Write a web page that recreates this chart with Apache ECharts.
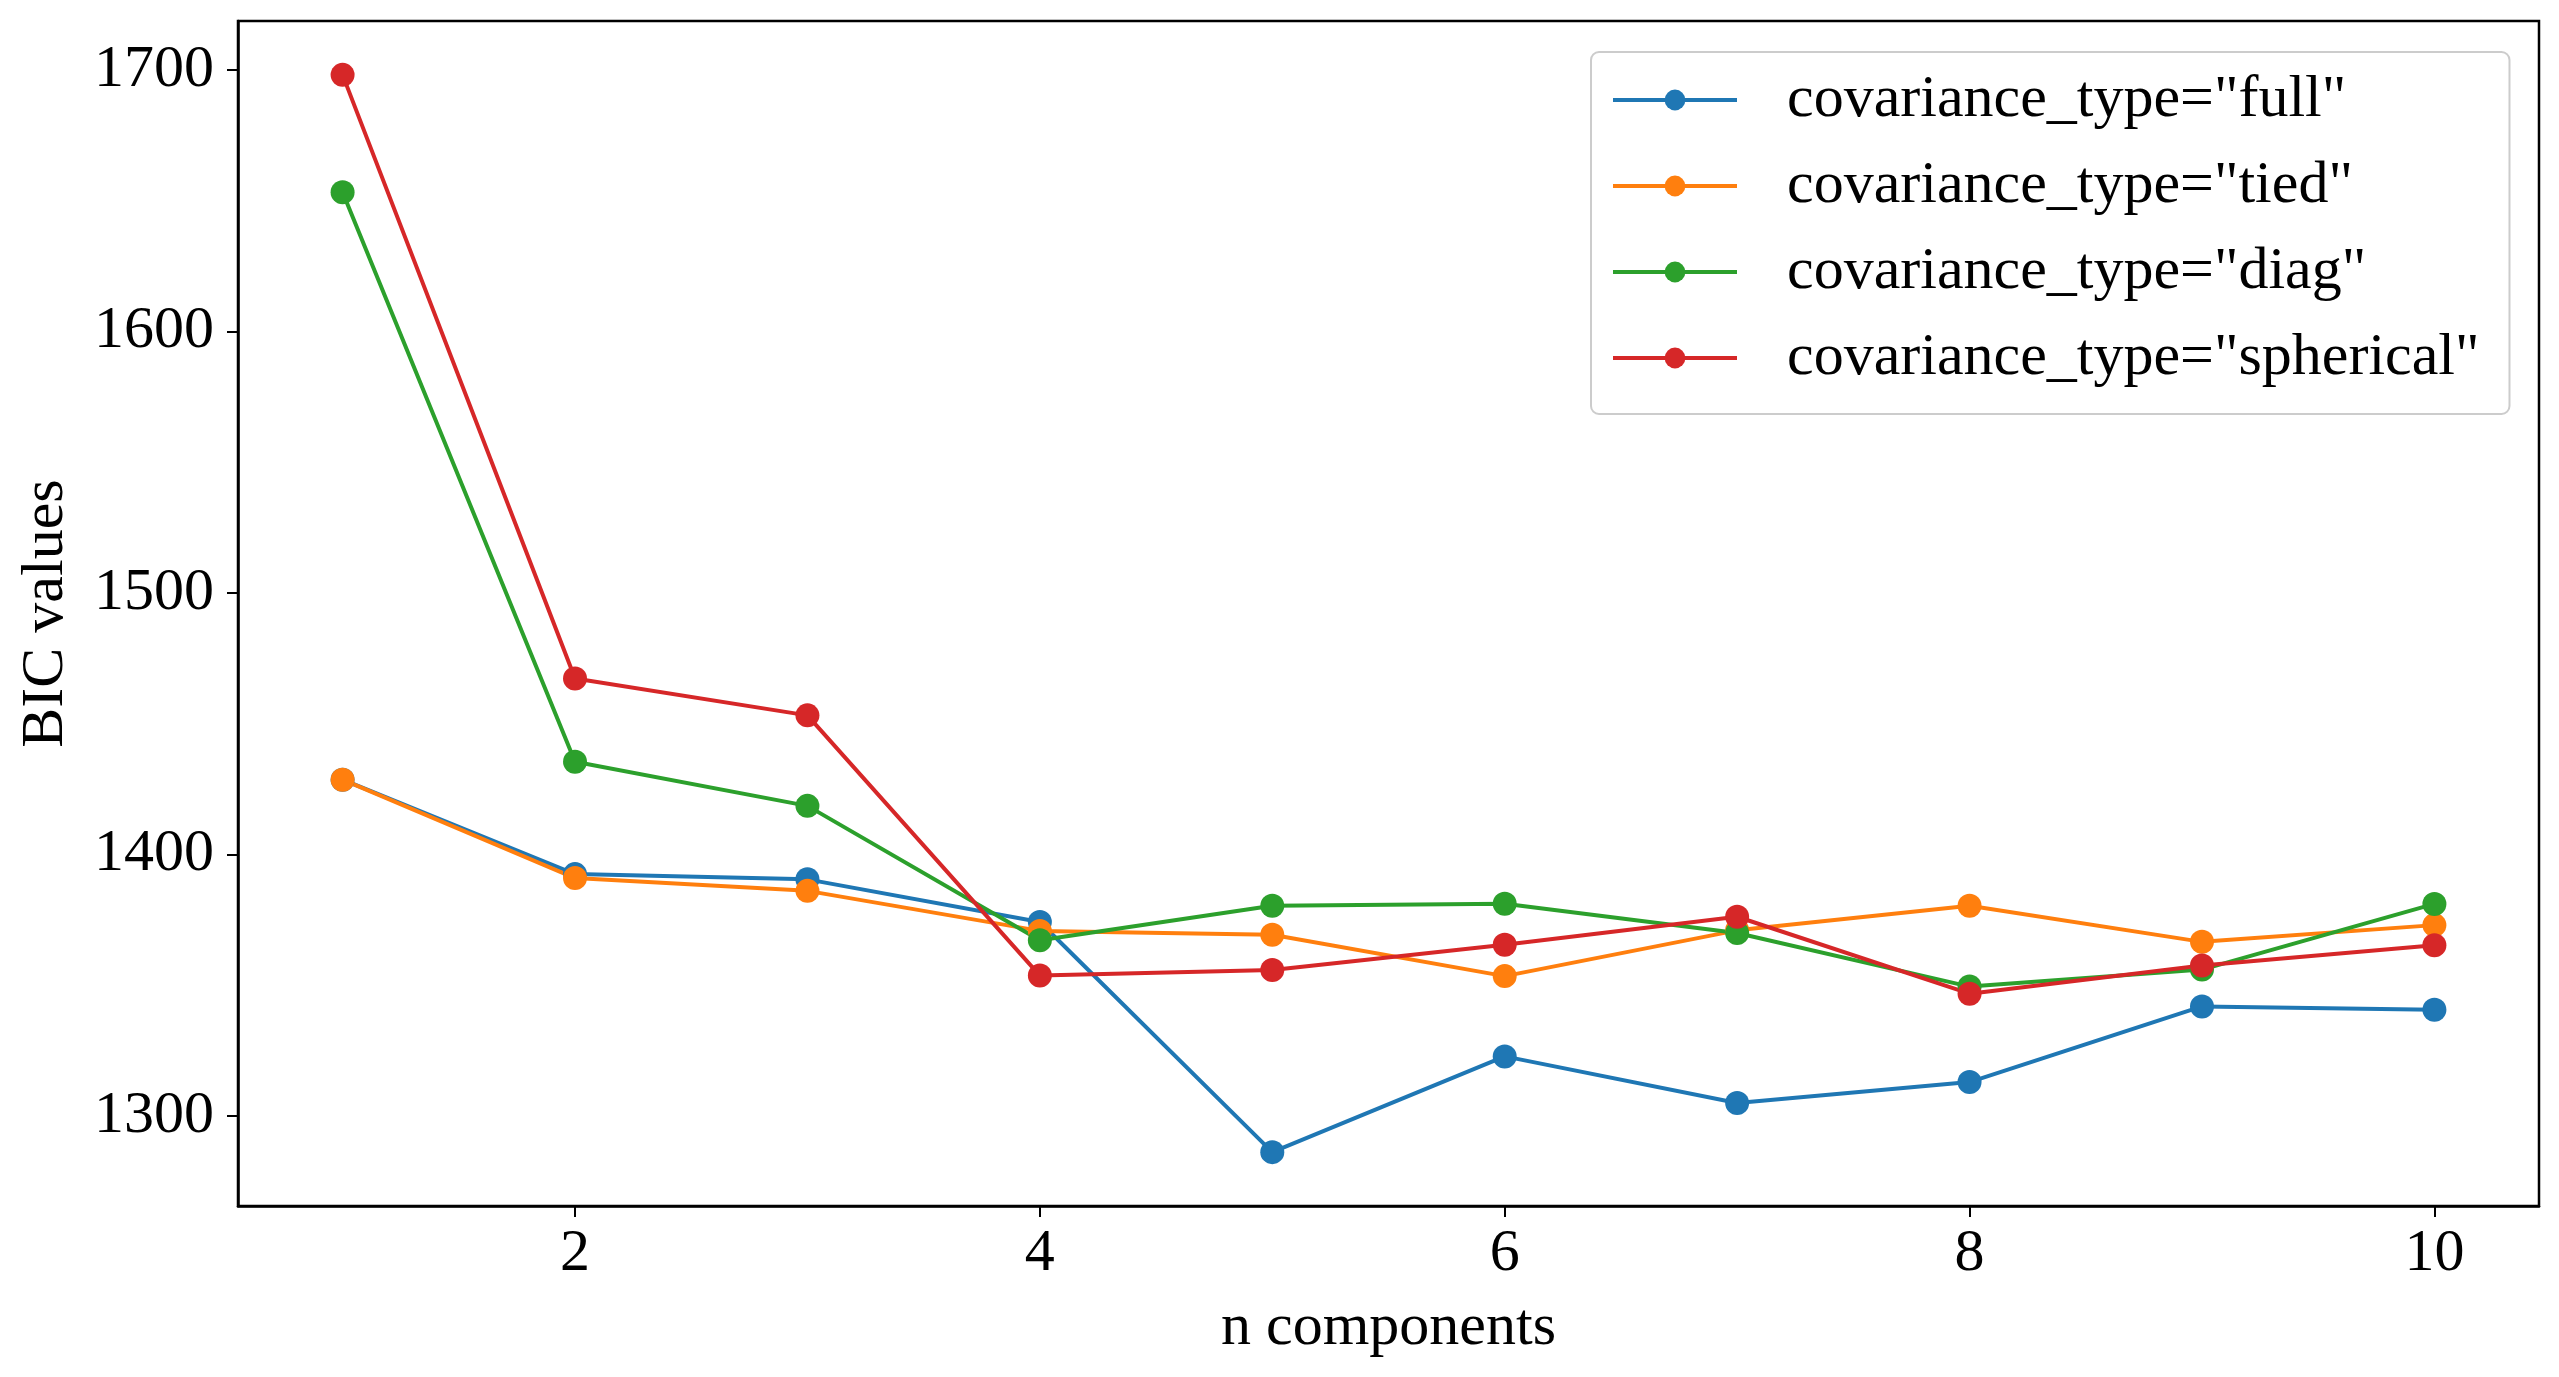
<!DOCTYPE html>
<html>
<head>
<meta charset="utf-8">
<script src="https://cdn.jsdelivr.net/npm/echarts@6/dist/echarts.min.js"></script>
<style>
html,body{margin:0;padding:0;background:#fff;}
#chart{width:2559px;height:1377px;}
</style>
</head>
<body>
<div id="chart"></div>
<script>
const nComponents = [1, 2, 3, 4, 5, 6, 7, 8, 9, 10];
const xTicks = [2, 4, 6, 8, 10];
const yTicks = [1300, 1400, 1500, 1600, 1700];
const seriesNames = [
  'covariance_type="full"',
  'covariance_type="tied"',
  'covariance_type="diag"',
  'covariance_type="spherical"'
];
const fullBIC      = [1428.6, 1392.5, 1390.5, 1374.2, 1286.2, 1322.8, 1305.0, 1313.0, 1341.9, 1340.6];
const tiedBIC      = [1428.6, 1391.0, 1386.1, 1370.8, 1369.3, 1353.5, 1371.0, 1380.4, 1366.6, 1373.0];
const diagBIC      = [1653.2, 1435.5, 1418.6, 1367.2, 1380.4, 1381.2, 1370.0, 1349.5, 1356.0, 1381.1];
const sphericalBIC = [1698.1, 1467.3, 1453.2, 1353.7, 1355.8, 1365.5, 1376.2, 1346.8, 1357.6, 1365.3];
const colors = ['#1f77b4', '#ff7f0e', '#2ca02c', '#d62728'];

const allSeries = [fullBIC, tiedBIC, diagBIC, sphericalBIC];
const FONT = 'Liberation Serif';
const FS = 60;

const chart = echarts.init(document.getElementById('chart'), null, {renderer: 'canvas'});
chart.setOption({
  animation: false,
  backgroundColor: '#ffffff',
  color: colors,
  textStyle: {fontFamily: FONT},
  grid: {
    left: 238, right: 20, top: 21, bottom: 171,
    show: true, borderColor: '#000', borderWidth: 2.5, backgroundColor: 'transparent'
  },
  legend: {
    orient: 'vertical',
    left: 1591, top: 52,
    width: 917,
    padding: [18, 30, 26, 20],
    itemWidth: 124, itemHeight: 26,
    itemGap: 26,
    backgroundColor: 'rgba(255,255,255,0.8)',
    borderColor: '#cccccc', borderWidth: 2, borderRadius: 8,
    lineStyle: {width: 4},
    textStyle: {fontFamily: FONT, fontSize: FS, color: '#000', padding: [0, 0, 0, 45]},
    data: seriesNames
  },
  xAxis: {
    type: 'value',
    min: v => v.min - 0.05 * (v.max - v.min),
    max: v => v.max + 0.05 * (v.max - v.min),
    name: 'n components',
    nameLocation: 'middle',
    nameGap: 92,
    nameTextStyle: {fontFamily: FONT, fontSize: FS, color: '#000'},
    axisLine: {show: true, onZero: false, lineStyle: {color: '#000', width: 2.5}},
    axisTick: {show: true, length: 11, inside: false, customValues: xTicks, lineStyle: {color: '#000', width: 2}},
    axisLabel: {fontFamily: FONT, fontSize: FS, color: '#000', margin: 18, customValues: xTicks, formatter: v => String(v)},
    splitLine: {show: false}
  },
  yAxis: {
    type: 'value',
    min: v => v.min - 0.05 * (v.max - v.min),
    max: v => v.max + 0.05 * (v.max - v.min),
    name: 'BIC values',
    nameLocation: 'middle',
    nameGap: 162,
    nameTextStyle: {fontFamily: FONT, fontSize: FS, color: '#000'},
    axisLine: {show: true, onZero: false, lineStyle: {color: '#000', width: 2.5}},
    axisTick: {show: true, length: 11, inside: false, customValues: yTicks, lineStyle: {color: '#000', width: 2}},
    axisLabel: {fontFamily: FONT, fontSize: FS, color: '#000', margin: 24, customValues: yTicks, formatter: v => String(v)},
    splitLine: {show: false}
  },
  series: allSeries.map((vals, i) => ({
    name: seriesNames[i],
    type: 'line',
    data: nComponents.map((n, j) => [n, vals[j]]),
    symbol: 'circle',
    symbolSize: 24,
    showSymbol: true,
    lineStyle: {width: 4, color: colors[i]},
    itemStyle: {color: colors[i]},
    emphasis: {disabled: true}
  }))
});
</script>
</body>
</html>
